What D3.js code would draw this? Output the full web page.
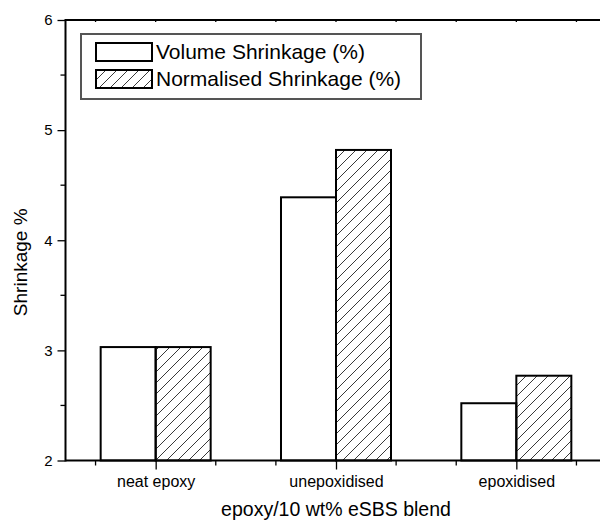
<!DOCTYPE html>
<html>
<head>
<meta charset="utf-8">
<script src="https://cdn.jsdelivr.net/npm/d3@7"></script>
<style>
  body { margin: 0; background: #fff; }
  text { font-family: "Liberation Sans", Arial, sans-serif; fill: #000; }
</style>
</head>
<body>
<div id="chart"></div>
<script>
// data
const categories = ["neat epoxy", "unepoxidised", "epoxidised"];
const volumeShrinkage = [3.03, 4.39, 2.52];
const normalisedShrinkage = [3.03, 4.82, 2.77];
const seriesNames = ["Volume Shrinkage (%)", "Normalised Shrinkage (%)"];
const yTicks = [2, 3, 4, 5, 6];

const W = 600, H = 525;

const svg = d3.select("#chart").append("svg")
  .attr("width", W).attr("height", H);

// hatch pattern
const defs = svg.append("defs");
defs.append("pattern")
  .attr("id", "hatch")
  .attr("patternUnits", "userSpaceOnUse")
  .attr("width", 11).attr("height", 11)
  .append("path")
  .attr("d", "M-1,12 L12,-1 M-3,3 L3,-3 M8,14 L14,8")
  .attr("stroke", "#222")
  .attr("stroke-width", 0.9);

// x is continuous: category i sits at i+1, frame spans 0.5 .. 3.5
const x = d3.scaleLinear().domain([0.5, 3.5]).range([65.5, 606.5]);
const y = d3.scaleLinear().domain([2, 6]).range([460.5, 20]);
const barW = x(1.305) - x(1);

const g = svg.append("g");

// bars
const bars = [];
categories.forEach((c, i) => {
  bars.push({ key: i + 1, value: volumeShrinkage[i], series: 0 });
  bars.push({ key: i + 1, value: normalisedShrinkage[i], series: 1 });
});

g.selectAll("rect.bar")
  .data(bars)
  .enter()
  .append("rect")
  .attr("class", "bar")
  .attr("x", d => d.series === 0 ? x(d.key) - barW : x(d.key))
  .attr("width", barW)
  .attr("y", d => y(d.value))
  .attr("height", d => y(2) - y(d.value))
  .attr("fill", d => d.series === 0 ? "#fff" : "url(#hatch)")
  .attr("stroke", "#000")
  .attr("stroke-width", 2);

// frame lines
g.append("line").attr("x1", x(0.5)).attr("x2", W).attr("y1", y(2)).attr("y2", y(2))
  .attr("stroke", "#000").attr("stroke-width", 2);
g.append("line").attr("x1", x(0.5)).attr("x2", W).attr("y1", y(6)).attr("y2", y(6))
  .attr("stroke", "#000").attr("stroke-width", 2);
g.append("line").attr("x1", x(0.5)).attr("x2", x(0.5)).attr("y1", y(2) + 1).attr("y2", y(6) - 1)
  .attr("stroke", "#000").attr("stroke-width", 2);

// x axis: major ticks at categories, minor ticks every 1/3
const xAxis = d3.axisBottom(x)
  .tickValues([1, 2, 3])
  .tickFormat((d, i) => categories[i])
  .tickSize(9).tickPadding(6);
const xg = g.append("g").attr("transform", "translate(0," + y(2) + ")").call(xAxis);
xg.select(".domain").remove();
xg.selectAll(".tick line").attr("stroke-width", 1.3);
xg.selectAll(".tick text").style("font-size", "16px").style("font-family", "Liberation Sans, Arial, sans-serif");

const xMinor = [];
for (let k = 0; k < 3; k++) {
  xMinor.push(k + 1 - 1 / 3, k + 1 + 1 / 3);
}
g.selectAll("line.xminor")
  .data(xMinor).enter().append("line")
  .attr("x1", d => x(d)).attr("x2", d => x(d))
  .attr("y1", y(2)).attr("y2", y(2) + 5)
  .attr("stroke", "#000").attr("stroke-width", 1.3);
// small marks on the top edge
g.selectAll("line.xtop")
  .data(xMinor.concat([1, 2, 3])).enter().append("line")
  .attr("x1", d => x(d)).attr("x2", d => x(d))
  .attr("y1", y(6)).attr("y2", y(6) + 2)
  .attr("stroke", "#000").attr("stroke-width", 1.3);

// y axis
const yAxis = d3.axisLeft(y).tickValues(yTicks).tickFormat(d3.format("d"))
  .tickSize(8).tickPadding(5);
const yg = g.append("g").attr("transform", "translate(" + x(0.5) + ",0)").call(yAxis);
yg.select(".domain").remove();
yg.selectAll(".tick line").attr("stroke-width", 1.3);
yg.selectAll(".tick text").style("font-size", "15px").style("font-family", "Liberation Sans, Arial, sans-serif");

g.selectAll("line.yminor")
  .data([2.5, 3.5, 4.5, 5.5]).enter().append("line")
  .attr("x1", x(0.5) - 5).attr("x2", x(0.5))
  .attr("y1", d => y(d)).attr("y2", d => y(d))
  .attr("stroke", "#000").attr("stroke-width", 1.3);

// axis titles
svg.append("text")
  .attr("transform", "rotate(-90)")
  .attr("x", -(y(3.8)))
  .attr("y", 27)
  .attr("text-anchor", "middle")
  .style("font-size", "19px")
  .text("Shrinkage %");

svg.append("text")
  .attr("x", x(2))
  .attr("y", 516)
  .attr("text-anchor", "middle")
  .style("font-size", "19.5px")
  .text("epoxy/10 wt% eSBS blend");

// legend
const lg = svg.append("g");
lg.append("rect")
  .attr("x", 81).attr("y", 34)
  .attr("width", 340).attr("height", 65)
  .attr("fill", "#fff")
  .attr("stroke", "#555").attr("stroke-width", 2);

seriesNames.forEach((name, i) => {
  lg.append("rect")
    .attr("x", 96).attr("y", 43 + i * 27)
    .attr("width", 56).attr("height", 18)
    .attr("fill", i === 0 ? "#fff" : "url(#hatch)")
    .attr("stroke", "#000").attr("stroke-width", 2);
  lg.append("text")
    .attr("x", 156).attr("y", 59 + i * 27)
    .style("font-size", "21px")
    .text(name);
});
</script>
</body>
</html>
